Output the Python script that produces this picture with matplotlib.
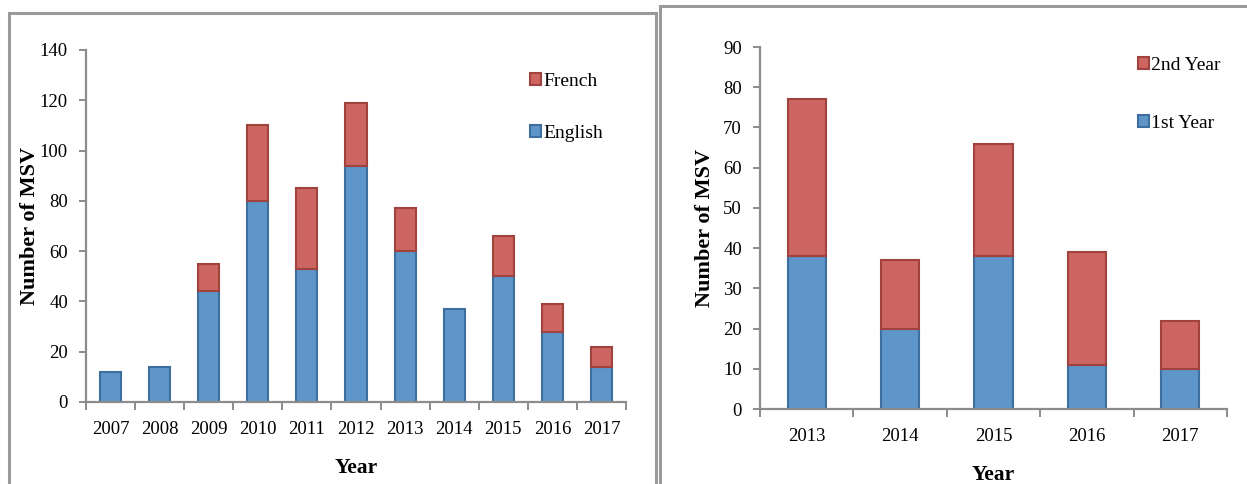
import matplotlib.pyplot as plt
from matplotlib.patches import Rectangle, Patch
import numpy as np

# left chart data
years_a = ['2007', '2008', '2009', '2010', '2011', '2012', '2013', '2014', '2015', '2016', '2017']
english = [12, 14, 44, 80, 53, 94, 60, 37, 50, 28, 14]
french = [0, 0, 11, 30, 32, 25, 17, 0, 16, 11, 8]

# right chart data
years_b = ['2013', '2014', '2015', '2016', '2017']
first_year = [38, 20, 38, 11, 10]
second_year = [39, 17, 28, 28, 12]

blue = '#5f96c9'
blue_edge = '#3e6e9e'
red = '#cd6560'
red_edge = '#a0423e'
grey = '#8c8c8c'

plt.rcParams['font.family'] = ['Liberation Serif', 'DejaVu Serif']

W, H = 1247, 484
fig = plt.figure(figsize=(W / 100, H / 100), dpi=100)


def frac(x0, y0, x1, y1):
    # pixel box -> figure fraction [left, bottom, width, height]
    return [x0 / W, 1 - y1 / H, (x1 - x0) / W, (y1 - y0) / H]


# panel borders
fig.patches.append(Rectangle((9 / W, -0.1), (656 - 9) / W, 1.1 - 13 / H, transform=fig.transFigure,
                             fill=False, edgecolor='#9a9a9a', linewidth=2.2))
fig.patches.append(Rectangle((660 / W, -0.1), 0.5, 1.1 - 6 / H, transform=fig.transFigure,
                             fill=False, edgecolor='#9a9a9a', linewidth=2.2))


def style_axes(ax, n, ymax, ystep):
    ax.set_xlim(-0.5, n - 0.5)
    ax.set_ylim(0, ymax)
    ax.set_yticks(np.arange(0, ymax + 1, ystep))
    for s in ['top', 'right']:
        ax.spines[s].set_visible(False)
    for s in ['left', 'bottom']:
        ax.spines[s].set_color(grey)
        ax.spines[s].set_linewidth(1.6)
    ax.tick_params(axis='y', length=5, width=1.4, color=grey, labelsize=13.5, pad=8)
    # category labels without tick marks, tick marks between categories
    ax.set_xticks(np.arange(n))
    ax.tick_params(axis='x', which='major', length=0, labelsize=13.5, pad=14)
    ax.set_xticks(np.arange(n + 1) - 0.5, minor=True)
    ax.tick_params(axis='x', which='minor', length=6, width=1.4, color=grey)


def stacked(ax, low, high, width):
    x = np.arange(len(low))
    # empty upper segments are left out (no outline for a zero value)
    top = np.array([v if v > 0 else np.nan for v in high], dtype=float)
    ax.bar(x, low, width=width, color=blue, edgecolor=blue_edge, linewidth=1.5)
    ax.bar(x, top, width=width, bottom=low, color=red, edgecolor=red_edge, linewidth=1.5)


def legend(ax, labels, anchor, spacing):
    h = [Patch(facecolor=red, edgecolor=red_edge, linewidth=1.5),
         Patch(facecolor=blue, edgecolor=blue_edge, linewidth=1.5)]
    ax.legend(h, labels, loc='upper left', bbox_to_anchor=anchor, frameon=False,
              fontsize=14, handlelength=0.55, handleheight=0.55, handletextpad=0.12,
              labelspacing=spacing, borderaxespad=0, borderpad=0)


# left chart
ax1 = fig.add_axes(frac(86, 50, 626, 402))
stacked(ax1, english, french, 0.43)
style_axes(ax1, len(years_a), 140, 20)
ax1.set_xticklabels(years_a)
ax1.set_ylabel('Number of MSV', fontsize=16, fontweight='bold', labelpad=0)
ax1.set_xlabel('Year', fontsize=15.5, fontweight='bold', labelpad=14)
legend(ax1, ['French', 'English'], (0.822, 0.935), 1.8)

# right chart
ax2 = fig.add_axes(frac(760, 47, 1227, 409))
stacked(ax2, first_year, second_year, 0.41)
style_axes(ax2, len(years_b), 90, 10)
ax2.set_xticklabels(years_b)
ax2.set_ylabel('Number of MSV', fontsize=16, fontweight='bold', labelpad=6)
ax2.set_xlabel('Year', fontsize=15.5, fontweight='bold', labelpad=14)
legend(ax2, ['2nd Year', '1st Year'], (0.81, 0.972), 2.1)

fig.savefig('out.png', dpi=100)
